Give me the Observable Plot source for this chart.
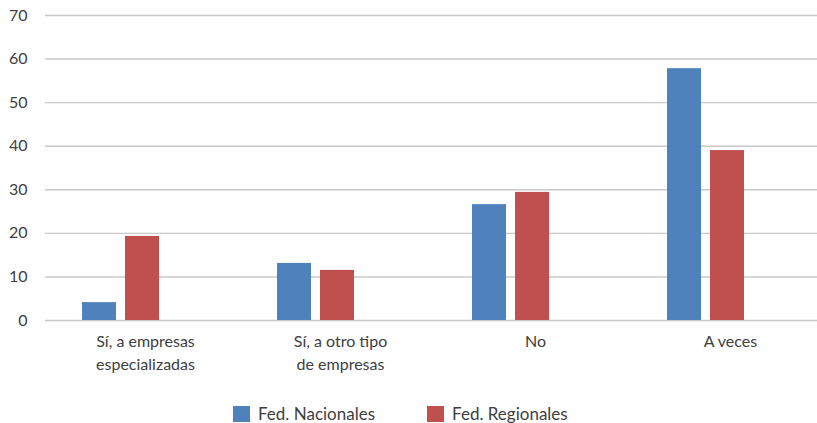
<!DOCTYPE html>
<html>
<head>
<meta charset="utf-8">
<script src="https://cdn.jsdelivr.net/npm/d3@7"></script>
<script src="https://cdn.jsdelivr.net/npm/@observablehq/plot@0.6"></script>
<style>
  html, body { margin: 0; padding: 0; background: #fff; overflow: hidden; }
  #chart svg { display: block; }
  .legend { position: absolute; top: 405px; left: 233px; display: flex; gap: 52px; font-family: Lato, "Noto Sans", sans-serif; font-size: 17px; line-height: 17px; color: #404040; }
  .legend .item { display: flex; align-items: center; }
  .legend .sw { width: 17px; height: 16px; margin-right: 8px; }
</style>
</head>
<body>
<div id="chart"></div>
<div class="legend" id="legend"></div>
<script>
const categories = ["Sí, a empresas\nespecializadas", "Sí, a otro tipo\nde empresas", "No", "A veces"];
const series = ["Fed. Nacionales", "Fed. Regionales"];
const nacionales = [4.1, 13.1, 26.6, 57.8];
const regionales = [19.3, 11.5, 29.4, 39.0];
const colors = ["#4F81BD", "#C0504D"];
const yTicks = [0, 10, 20, 30, 40, 50, 60, 70];

const rowsNac = categories.map((c, i) => ({category: c, value: nacionales[i]}));
const rowsReg = categories.map((c, i) => ({category: c, value: regionales[i]}));

const chart = Plot.plot({
  width: 817,
  height: 400,
  marginLeft: 45,
  marginRight: 0,
  marginTop: 15,
  marginBottom: 80,
  style: {fontFamily: "Lato, 'Noto Sans', sans-serif", fontSize: "16px", color: "#404040", background: "#fff"},
  x: {domain: categories, range: [44.5, 824.5], paddingInner: 0.385, paddingOuter: 0.1925, label: null},
  y: {domain: [0, 70], label: null},
  marks: [
    Plot.ruleY(yTicks, {stroke: "#c8c8c8", strokeWidth: 1.4}),
    Plot.barY(rowsNac, {x: "category", y: "value", fill: colors[0], insetLeft: 0, insetRight: 86}),
    Plot.barY(rowsReg, {x: "category", y: "value", fill: colors[1], insetLeft: 43, insetRight: 43}),
    Plot.axisY({ticks: yTicks, tickSize: 0, tickPadding: 18, fontSize: 16, fill: "#404040"}),
    Plot.axisX({tickSize: 0, tickPadding: 11, fontSize: 16, fill: "#404040", dx: 3, lineHeight: 1.4})
  ]
});
document.getElementById("chart").appendChild(chart);

const legend = document.getElementById("legend");
series.forEach((s, i) => {
  const item = document.createElement("div");
  item.className = "item";
  const sw = document.createElement("span");
  sw.className = "sw";
  sw.style.background = colors[i];
  const t = document.createElement("span");
  t.textContent = s;
  item.appendChild(sw);
  item.appendChild(t);
  legend.appendChild(item);
});
</script>
</body>
</html>
